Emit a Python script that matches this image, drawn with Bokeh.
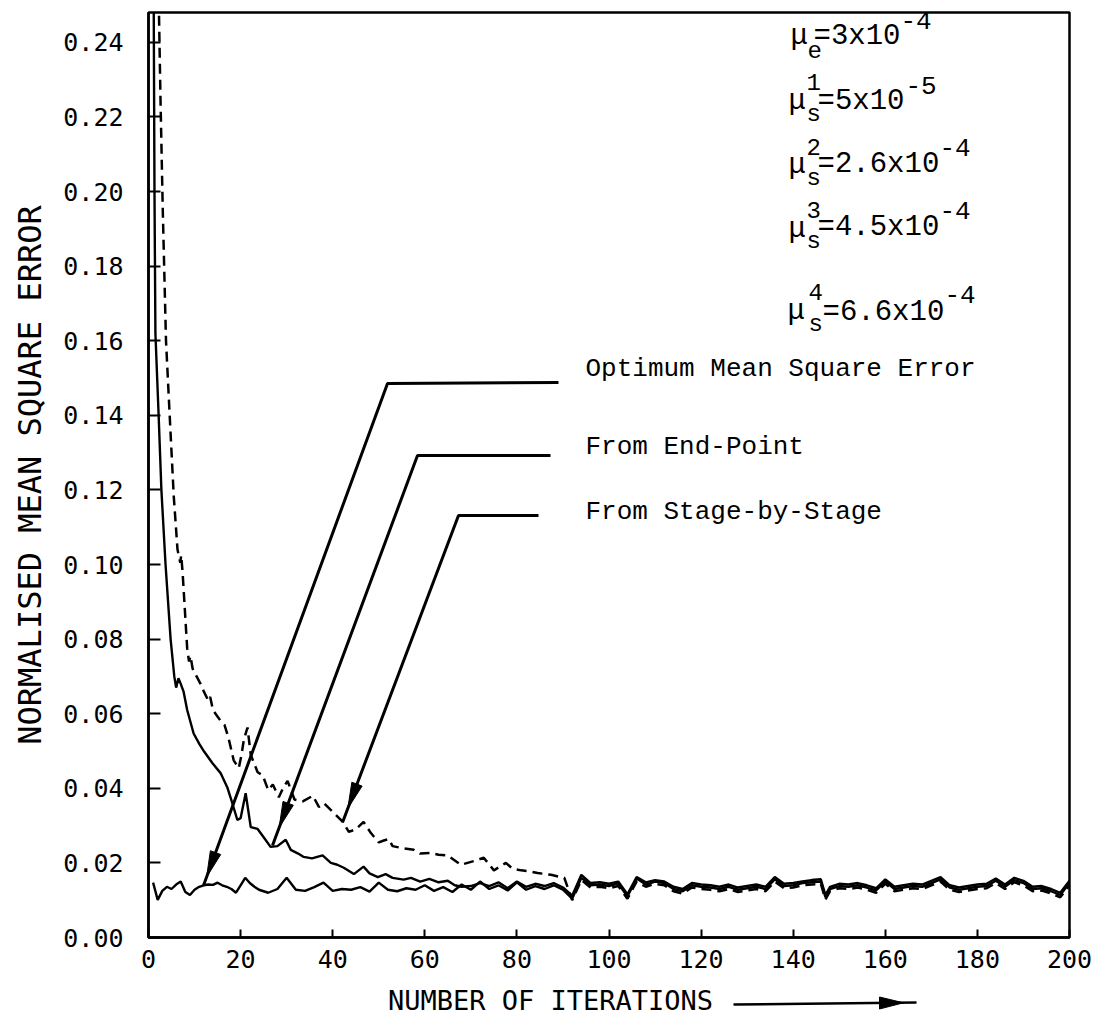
import math
from bokeh.plotting import figure
from bokeh.layouts import column
from bokeh.models import Label, Range1d, FixedTicker, PrintfTickFormatter
from bokeh.embed import file_html
from bokeh.resources import INLINE

# ---------------- data ----------------
x_ticks = [0, 20, 40, 60, 80, 100, 120, 140, 160, 180, 200]
y_ticks = [0.00, 0.02, 0.04, 0.06, 0.08, 0.10, 0.12, 0.14, 0.16, 0.18, 0.20, 0.22, 0.24]

# Optimum mean square error
iters_opt = [1, 2, 3, 4, 5, 6, 7, 8, 9, 10, 11, 12, 13, 14, 15, 16, 17, 18, 19, 20, 21, 22, 23,
             24, 26, 28, 30, 32, 34, 36, 38, 40, 42, 44, 46, 48, 50, 52, 54, 56, 58, 60,
             62, 64, 66, 68, 70, 72, 74, 76, 78, 80, 82, 84, 86, 88, 90, 92, 94, 96, 98, 100,
             102, 104, 106, 108, 110, 112, 114, 116, 118, 120, 122, 124, 126, 128, 130, 132,
             134, 136, 138, 140, 142, 144, 146, 147, 148, 150, 152, 154, 156, 158, 160, 162,
             164, 166, 168, 170, 172, 174, 176, 178, 180, 182, 184, 186, 188, 190, 192, 194,
             196, 198, 200]
mse_opt = [0.0147, 0.0101, 0.0125, 0.0136, 0.0130, 0.0142, 0.0150, 0.0122, 0.0114, 0.0128,
           0.0136, 0.0140, 0.0142, 0.0141, 0.0147, 0.0140, 0.0136, 0.0130, 0.0120, 0.0140,
           0.0160, 0.0146, 0.0136,
           0.0128, 0.0120, 0.0130, 0.0160, 0.0128, 0.0125, 0.0135, 0.0147, 0.0125, 0.0130,
           0.0128, 0.0135, 0.0123, 0.0147, 0.0128, 0.0124, 0.0132, 0.0128, 0.0140,
           0.0125, 0.0135, 0.0122, 0.0142, 0.0128, 0.0150, 0.0130, 0.0140, 0.0126, 0.0148,
           0.0128, 0.0138, 0.0130, 0.0140, 0.0128, 0.0104, 0.0160, 0.0140, 0.0142, 0.0138,
           0.0145, 0.0110, 0.0158, 0.0142, 0.0150, 0.0146, 0.0130, 0.0124, 0.0140, 0.0136,
           0.0134, 0.0130, 0.0136, 0.0128, 0.0132, 0.0136,
           0.0130, 0.0156, 0.0138, 0.0140, 0.0146, 0.0148, 0.0150, 0.0108, 0.0130, 0.0138,
           0.0136, 0.0140, 0.0134, 0.0126, 0.0150, 0.0130,
           0.0134, 0.0138, 0.0136, 0.0146, 0.0156, 0.0134, 0.0128, 0.0132, 0.0136, 0.0138,
           0.0152, 0.0136, 0.0154, 0.0146, 0.0130, 0.0132,
           0.0124, 0.0114, 0.0146]

# From End-Point
iters_end = [1.1, 1.3, 1.5, 2.2, 2.8, 3.7, 4.8, 5.6, 6.0, 6.5, 7.0, 7.6, 8.4, 9.8, 11, 12,
             13.9, 15.7, 17.1, 18.2, 19.3, 20.0, 21.1, 22.2, 23.7, 25.4, 26.5, 28.0, 29.8,
             30.9, 32.5, 33.7, 35.5, 37.8, 39.6, 41, 42.4, 44.6, 46.7, 48, 49.8, 51.5, 53,
             55.4, 57, 59, 61, 63, 65, 66.5,
             68, 70, 72, 74, 76, 78, 80, 82, 84, 86, 88, 90, 92, 94, 96, 98, 100,
             102, 104, 106, 108, 110, 112, 114, 116, 118, 120, 122, 124, 126, 128, 130, 132,
             134, 136, 138, 140, 142, 144, 146, 147, 148, 150, 152, 154, 156, 158, 160, 162,
             164, 166, 168, 170, 172, 174, 176, 178, 180, 182, 184, 186, 188, 190, 192, 194,
             196, 198, 200]
mse_end = [0.26, 0.20, 0.162, 0.140, 0.120, 0.100, 0.080, 0.070, 0.067, 0.0695, 0.068,
           0.066, 0.061, 0.0547, 0.052, 0.050, 0.0467, 0.044, 0.0403, 0.036, 0.0315, 0.032,
           0.0387, 0.0296, 0.0291, 0.0262, 0.0243, 0.0245, 0.0262, 0.0235, 0.0225, 0.0216,
           0.0212, 0.0220, 0.0200, 0.0195, 0.0187, 0.0170, 0.0190, 0.0172, 0.0162, 0.0170,
           0.0160, 0.0155, 0.0160, 0.0150, 0.0157, 0.0148, 0.0152, 0.0140,
           0.0136, 0.0138, 0.0146, 0.0138, 0.0148, 0.0132, 0.0150, 0.0136, 0.0144, 0.0138,
           0.0146, 0.0134, 0.0112, 0.0168, 0.0146, 0.0148, 0.0144,
           0.0150, 0.0116, 0.0162, 0.0148, 0.0154, 0.0150, 0.0136, 0.0130, 0.0146, 0.0142,
           0.0140, 0.0136, 0.0142, 0.0134, 0.0138, 0.0142,
           0.0136, 0.0162, 0.0144, 0.0146, 0.0150, 0.0154, 0.0156, 0.0114, 0.0136, 0.0144,
           0.0142, 0.0146, 0.0140, 0.0132, 0.0156, 0.0136,
           0.0140, 0.0144, 0.0142, 0.0152, 0.0162, 0.0140, 0.0134, 0.0138, 0.0142, 0.0144,
           0.0158, 0.0142, 0.0160, 0.0152, 0.0136, 0.0138,
           0.0130, 0.0120, 0.0152]

# From Stage-by-Stage (dashed)
iters_stage = [2.1, 2.6, 3.1, 3.8, 4.8, 5.5, 6.3, 6.9, 7.1, 7.4, 8.4, 8.8, 9.1, 9.6, 11.3, 12,
               13, 13.4, 14, 15.7, 16.5, 17.4, 18.5, 19.6, 20.2, 20.7, 21.5, 22.2, 23.7, 24.8,
               26.0, 27.0, 28.3, 29.2, 30.2, 31.7, 33.5, 35.7, 37, 38.1, 40.3, 42.2, 43.5, 45,
               46.7, 48.3, 50, 51.1, 52.2, 53, 55, 57.6, 59, 61.3, 63, 65, 67.8, 70.7, 72.8,
               75, 77.6, 79, 80.9, 82.5, 84.5, 87.4, 90.3,
               92, 94, 96, 98, 100,
               102, 104, 106, 108, 110, 112, 114, 116, 118, 120, 122, 124, 126, 128, 130, 132,
               134, 136, 138, 140, 142, 144, 146, 147, 148, 150, 152, 154, 156, 158, 160, 162,
               164, 166, 168, 170, 172, 174, 176, 178, 180, 182, 184, 186, 188, 190, 192, 194,
               196, 198, 200]
mse_stage = [0.26, 0.225, 0.195, 0.160, 0.135, 0.118, 0.104, 0.1005, 0.1025, 0.098, 0.0775,
             0.074, 0.0755, 0.072, 0.068, 0.066, 0.0635, 0.0645, 0.061, 0.058, 0.057, 0.0534,
             0.0475, 0.0454, 0.049, 0.053, 0.0563, 0.049, 0.0443, 0.0435, 0.0395, 0.041,
             0.0376, 0.040, 0.042, 0.037, 0.0365, 0.038, 0.035, 0.036, 0.0333, 0.031, 0.0283,
             0.029, 0.031, 0.028, 0.0255, 0.026, 0.0264, 0.0245, 0.024, 0.0235, 0.0225,
             0.0227, 0.0222, 0.022, 0.0195, 0.0205, 0.0214, 0.018, 0.020, 0.0185, 0.018,
             0.0178, 0.0173, 0.0168, 0.016,
             0.0100, 0.0154, 0.0134, 0.0136, 0.0132,
             0.0138, 0.0104, 0.0150, 0.0136, 0.0144, 0.0140, 0.0124, 0.0118, 0.0134, 0.0130,
             0.0128, 0.0124, 0.0130, 0.0122, 0.0126, 0.0130,
             0.0124, 0.0150, 0.0132, 0.0134, 0.0140, 0.0142, 0.0144, 0.0102, 0.0124, 0.0132,
             0.0130, 0.0134, 0.0128, 0.0120, 0.0144, 0.0124,
             0.0128, 0.0132, 0.0130, 0.0140, 0.0150, 0.0128, 0.0122, 0.0126, 0.0130, 0.0132,
             0.0146, 0.0130, 0.0148, 0.0140, 0.0124, 0.0126,
             0.0118, 0.0108, 0.0140]

legend_texts = ["Optimum Mean Square Error", "From End-Point", "From Stage-by-Stage"]
x_title = "NUMBER OF ITERATIONS"
y_title = "NORMALISED MEAN SQUARE ERROR"

# ---------------- layout ----------------
X_MAX = 200
Y_MAX = 0.248
FL, FR, FT, FB = 148, 1069, 12, 937   # frame edges on the picture (px)
SX = (FR - FL) / X_MAX
SY = (FB - FT) / Y_MAX
BOTTOM1 = 41      # space under the main frame for tick labels
STRIP_H = 38      # strip holding the x title and its arrow
BASE_FIX = 9      # labels land this much lower than the requested baseline


def dx(px):
    return (px - FL) / SX


def dy(py):
    return (FB - py) / SY


TICK_FONT = "DejaVu Sans Mono"
TYPE_FONT = "Liberation Mono"

p = figure(frame_width=FR - FL, frame_height=FB - FT,
           x_range=Range1d(0, X_MAX), y_range=Range1d(0, Y_MAX),
           output_backend="svg", toolbar_location=None,
           min_border_left=FL, min_border_top=FT,
           min_border_right=26, min_border_bottom=BOTTOM1)
p.background_fill_color = "white"
p.border_fill_color = "white"
p.outline_line_color = "black"
p.outline_line_width = 2.5
p.grid.visible = False

for ax in (p.xaxis[0], p.yaxis[0]):
    ax.axis_line_width = 2.5
    ax.axis_line_color = "black"
    ax.major_tick_line_width = 2
    ax.major_tick_line_color = "black"
    ax.major_tick_out = 0
    ax.minor_tick_line_color = None
    ax.major_label_text_font = TICK_FONT
    ax.major_label_text_font_size = "25px"
    ax.major_label_text_color = "black"

p.xaxis.ticker = FixedTicker(ticks=x_ticks)
p.yaxis.ticker = FixedTicker(ticks=y_ticks)
p.yaxis.formatter = PrintfTickFormatter(format="%.2f")
p.xaxis.major_tick_in = 8
p.yaxis.major_tick_in = 12
p.xaxis.major_label_standoff = 12
p.yaxis.major_label_standoff = 25

p.yaxis.axis_label = y_title
p.yaxis.axis_label_text_font = TICK_FONT
p.yaxis.axis_label_text_font_size = "32px"
p.yaxis.axis_label_text_font_style = "normal"
p.yaxis.axis_label_text_color = "black"
p.yaxis.axis_label_standoff = 11

# ---------------- curves ----------------
p.line(iters_opt, mse_opt, line_color="black", line_width=2.4)
p.line(iters_end, mse_end, line_color="black", line_width=2.4)
p.line(iters_stage, mse_stage, line_color="black", line_width=2.5, line_dash="10 6")

# ---------------- leader lines with arrowheads ----------------
leaders = [
    [(dx(558), dy(382)), (dx(387), dy(383)), (dx(203), dy(885)), 9],
    [(dx(550), dy(455)), (dx(417), dy(455)), (dx(272), dy(845)), 19],
    [(dx(538), dy(515)), (dx(458), dy(515)), (dx(342), dy(822)), 15],
]


def head(corner, end, back, length=26, half=5.5):
    vx = (end[0] - corner[0]) * SX
    vy = (end[1] - corner[1]) * SY
    n = math.hypot(vx, vy)
    ux, uy = vx / n, vy / n
    tx, ty = end[0] - ux * back / SX, end[1] - uy * back / SY
    bx, by = tx - ux * length / SX, ty - uy * length / SY
    nx, ny = -uy, ux
    return ([tx, bx + nx * half / SX, bx - nx * half / SX],
            [ty, by + ny * half / SY, by - ny * half / SY])


for a, b, c, back in leaders:
    p.line([a[0], b[0], c[0]], [a[1], b[1], c[1]], line_color="black", line_width=3)
    hx, hy = head(b, c, back)
    p.patch(hx, hy, fill_color="black", line_color="black", line_width=1)

# ---------------- legend texts ----------------
for txt, py in zip(legend_texts, [377, 455, 520]):
    p.add_layout(Label(x=dx(585), y=dy(py - BASE_FIX), text=txt, text_font=TYPE_FONT,
                       text_font_size="26px", text_color="black",
                       text_baseline="alphabetic", text_align="left"))

# ---------------- step-size annotations ----------------
mu_parts = [
    # text, left px, baseline px, size
    ("\u03bc", 790, 45, 29), ("e", 807, 58, 24), ("=3x10", 813, 45, 29), ("-4", 900, 29, 26),
    ("\u03bc", 788, 110, 29), ("1", 806, 90, 24), ("s", 806, 123, 24), ("=5x10", 817, 110, 29), ("-5", 905, 94, 26),
    ("\u03bc", 788, 174, 29), ("2", 806, 155, 24), ("s", 806, 187, 24), ("=2.6x10", 817, 173, 29), ("-4", 939, 156, 26),
    ("\u03bc", 788, 238, 29), ("3", 806, 218, 24), ("s", 806, 250, 24), ("=4.5x10", 817, 236, 29), ("-4", 939, 219, 26),
    ("\u03bc", 787, 320, 29), ("4", 808, 300, 24), ("s", 808, 333, 24), ("=6.6x10", 822, 321, 29), ("-4", 944, 303, 26),
]
for txt, px, py, sz in mu_parts:
    p.add_layout(Label(x=dx(px), y=dy(py - BASE_FIX), text=txt, text_font=TYPE_FONT,
                       text_font_size=f"{sz}px", text_color="black",
                       text_baseline="alphabetic", text_align="left"))

# ---------------- strip under the chart: x title and its arrow ----------------
strip_top = FB + BOTTOM1          # picture y of the strip's top edge
strip_bot = strip_top + STRIP_H


def sy(py):
    return strip_bot - py


q = figure(frame_width=FR - FL, frame_height=STRIP_H,
           x_range=p.x_range, y_range=Range1d(0, STRIP_H),
           output_backend="svg", toolbar_location=None,
           x_axis_location=None, y_axis_location=None,
           min_border_left=FL, min_border_right=26, min_border_top=0, min_border_bottom=0)
q.outline_line_color = None
q.grid.visible = False
q.background_fill_color = "white"
q.border_fill_color = "white"

q.add_layout(Label(x=dx(550), y=sy(1009 - BASE_FIX), text=x_title, text_font=TICK_FONT,
                   text_font_size="27px", text_align="center", text_baseline="alphabetic",
                   text_color="black"))
q.line([dx(733), dx(916)], [sy(1004), sy(1002)], line_color="black", line_width=2.5)
q.patch([dx(903), dx(879), dx(879)], [sy(1002.3), sy(996.5), sy(1008.5)],
        fill_color="black", line_color="black", line_width=1)

layout = column(p, q, spacing=0)
open("out.html", "w").write(file_html(layout, INLINE))
